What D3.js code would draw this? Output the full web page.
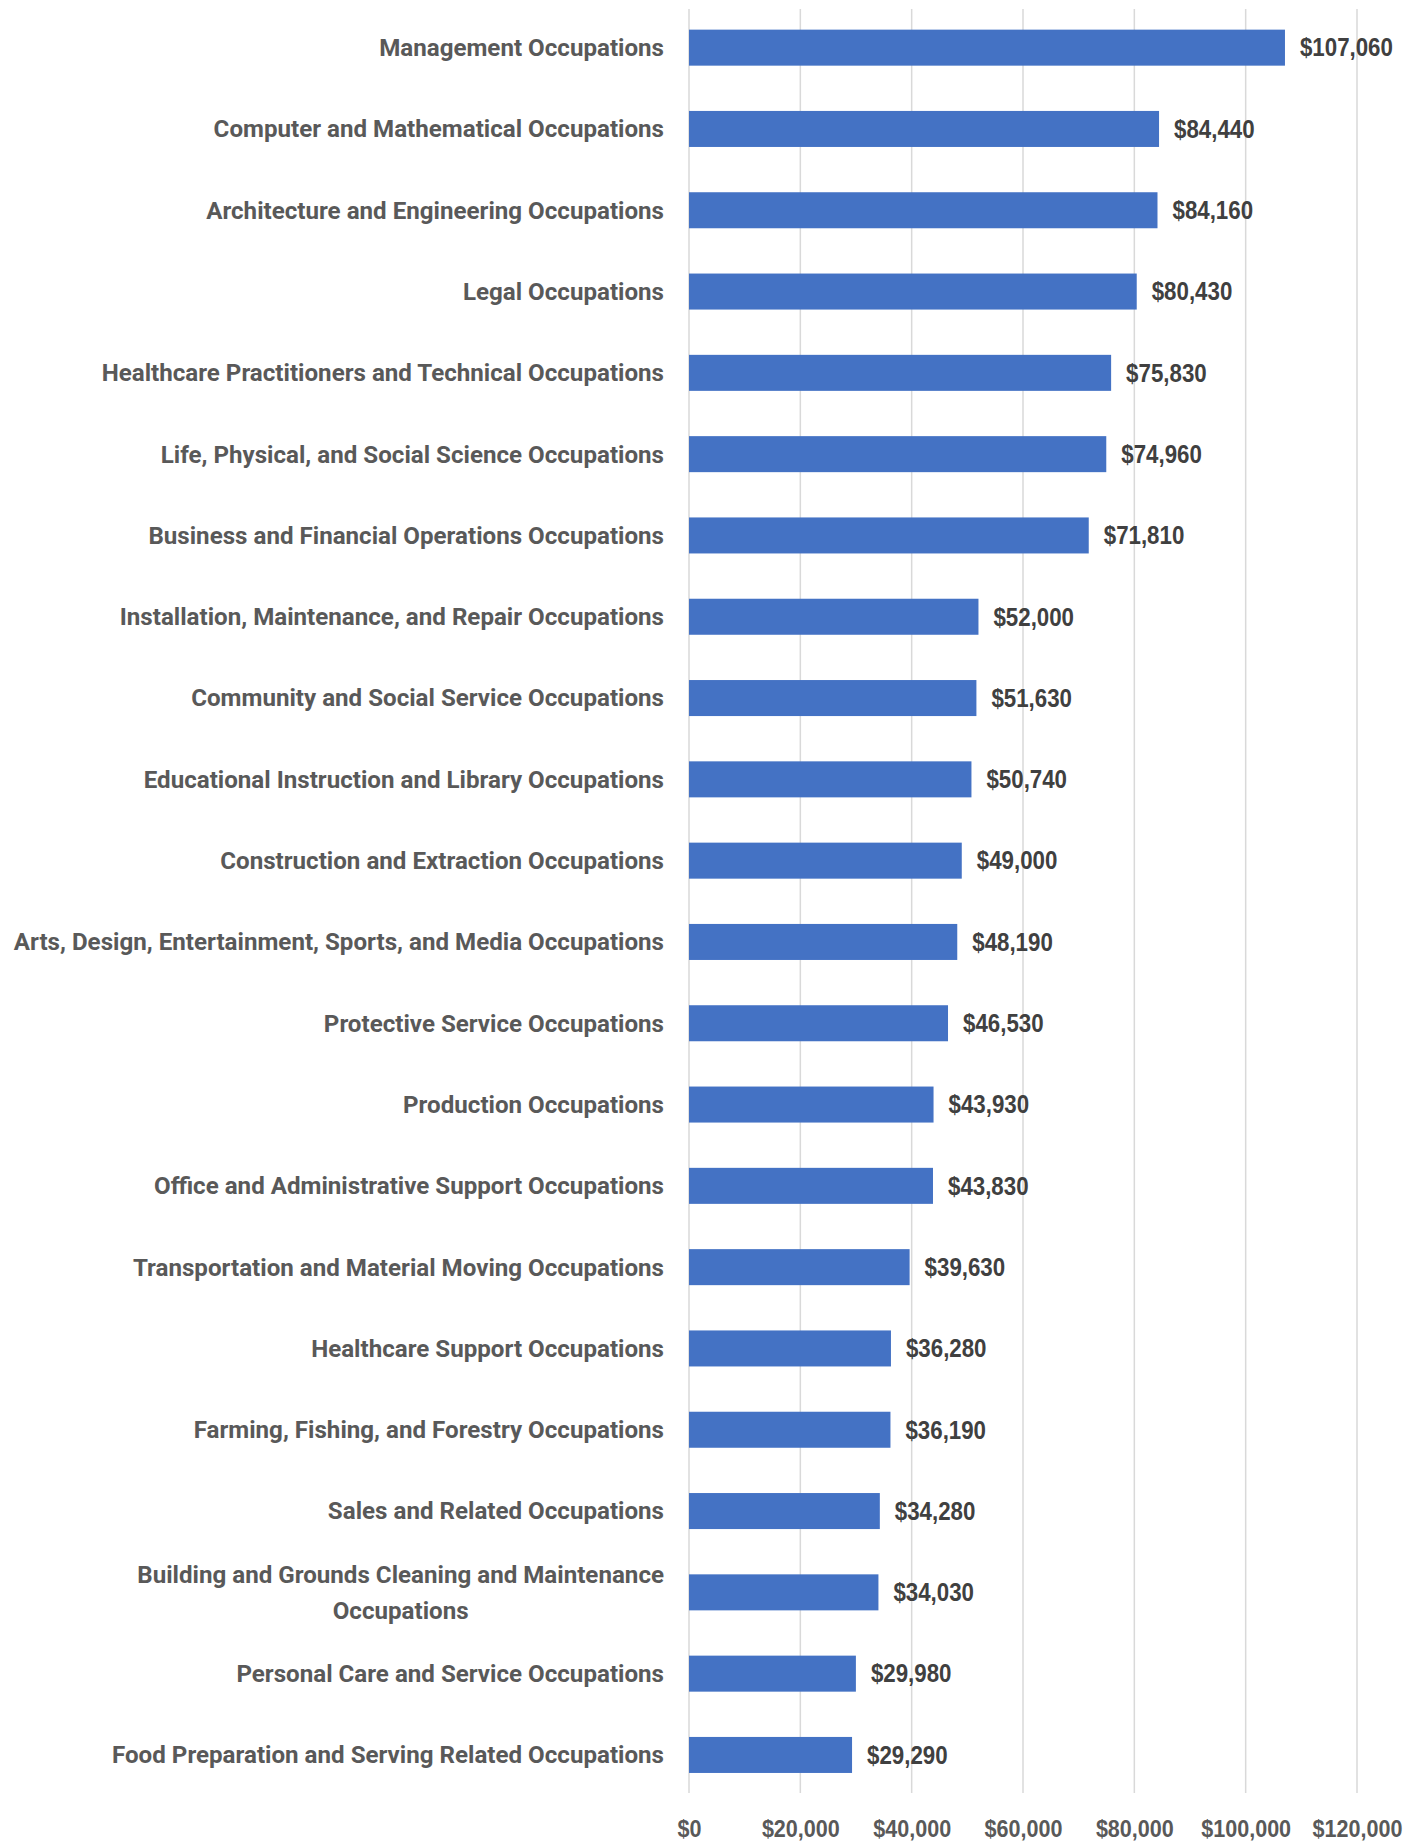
<!DOCTYPE html>
<html><head><meta charset="utf-8">
<script src="https://cdn.jsdelivr.net/npm/d3@7"></script>
<style>
html,body{margin:0;padding:0;background:#fff;}
</style></head>
<body><svg id="chart" width="1420" height="1843"></svg>
<script>
const categories = [
 "Management Occupations",
 "Computer and Mathematical Occupations",
 "Architecture and Engineering Occupations",
 "Legal Occupations",
 "Healthcare Practitioners and Technical Occupations",
 "Life, Physical, and Social Science Occupations",
 "Business and Financial Operations Occupations",
 "Installation, Maintenance, and Repair Occupations",
 "Community and Social Service Occupations",
 "Educational Instruction and Library Occupations",
 "Construction and Extraction Occupations",
 "Arts, Design, Entertainment, Sports, and Media Occupations",
 "Protective Service Occupations",
 "Production Occupations",
 "Office and Administrative Support Occupations",
 "Transportation and Material Moving Occupations",
 "Healthcare Support Occupations",
 "Farming, Fishing, and Forestry Occupations",
 "Sales and Related Occupations",
 "Building and Grounds Cleaning and Maintenance Occupations",
 "Personal Care and Service Occupations",
 "Food Preparation and Serving Related Occupations"
];
const values = [107060,84440,84160,80430,75830,74960,71810,52000,51630,50740,49000,48190,46530,43930,43830,39630,36280,36190,34280,34030,29980,29290];
const tickValues = [0,20000,40000,60000,80000,100000,120000];
const wrappedLabels = {"Building and Grounds Cleaning and Maintenance Occupations":["Building and Grounds Cleaning and Maintenance","Occupations"]};

const svg = d3.select("#chart");
const x = d3.scaleLinear().domain([0,120000]).range([689,1357]);
const y = d3.scaleBand().domain(categories).range([7,1795.6]).paddingInner(0.557).paddingOuter(0.2785);
const fmt = v => "$" + d3.format(",")(v);

const LABEL_FONT = "Roboto", VALUE_FONT = "'Liberation Sans', Arial, sans-serif";
// horizontal condensing factor so a sample string reaches a target width
function condense(sample, family, size, target){
  const t = svg.append("text").style("font-family",family).style("font-size",size+"px")
    .style("font-weight","bold").text(sample);
  const w = t.node().getComputedTextLength(); t.remove();
  return target / w;
}
const sLab = condense("Management Occupations", LABEL_FONT, 24, 285);
const sVal = condense("$107,060", VALUE_FONT, 25, 93);
const sAx = condense("$20,000", VALUE_FONT, 24, 78);

// gridlines
svg.append("g").selectAll("line").data(tickValues).join("line")
  .attr("x1", d=>x(d)).attr("x2", d=>x(d)).attr("y1", 9).attr("y2", 1793)
  .attr("stroke", "#d9d9d9").attr("stroke-width", 1.5);

// x axis labels
const xAxis = d3.axisBottom(x).tickValues(tickValues).tickFormat(fmt).tickSize(0).tickPadding(0);
const gx = svg.append("g").attr("transform","translate(0,1829)").call(xAxis);
gx.select(".domain").remove();
gx.attr("font-family",null).attr("font-size",null);
gx.selectAll("text").attr("dy","0.35em").attr("fill","#595959")
  .style("font-family",VALUE_FONT).style("font-size","24px").style("font-weight","bold")
  .attr("transform",`scale(${sAx},1)`);

// bars
svg.append("g").selectAll("rect").data(categories).join("rect")
  .attr("x", x(0)).attr("y", d=>y(d)).attr("height", y.bandwidth())
  .attr("width", (d,i)=>x(values[i])-x(0)).attr("fill","#4472C4");

// value labels
svg.append("g").selectAll("text").data(categories).join("text")
  .attr("transform",(d,i)=>`translate(${x(values[i])+15},${y(d)+y.bandwidth()/2}) scale(${sVal},1)`)
  .attr("dy","0.35em").attr("fill","#404040")
  .style("font-family",VALUE_FONT).style("font-size","25px").style("font-weight","bold")
  .text((d,i)=>fmt(values[i]));

// category labels
const lab = svg.append("g").selectAll("g").data(categories).join("g");
lab.each(function(d){
  const cy = y(d)+y.bandwidth()/2;
  const g = d3.select(this).attr("transform",`translate(664,${cy}) scale(${sLab},1)`);
  const lines = wrappedLabels[d] || [d];
  const styl = s => s.attr("dy","0.35em").attr("fill","#595959")
    .style("font-family",LABEL_FONT).style("font-size","24px").style("font-weight","bold");
  if(lines.length===1){
    styl(g.append("text").attr("x",0).attr("y",0).attr("text-anchor","end").text(lines[0]));
  } else {
    const t1 = styl(g.append("text").attr("x",0).attr("y",-18).attr("text-anchor","end").text(lines[0]));
    const w = t1.node().getComputedTextLength();
    styl(g.append("text").attr("x",-w/2).attr("y",18).attr("text-anchor","middle").text(lines[1]));
  }
});
</script></body></html>
